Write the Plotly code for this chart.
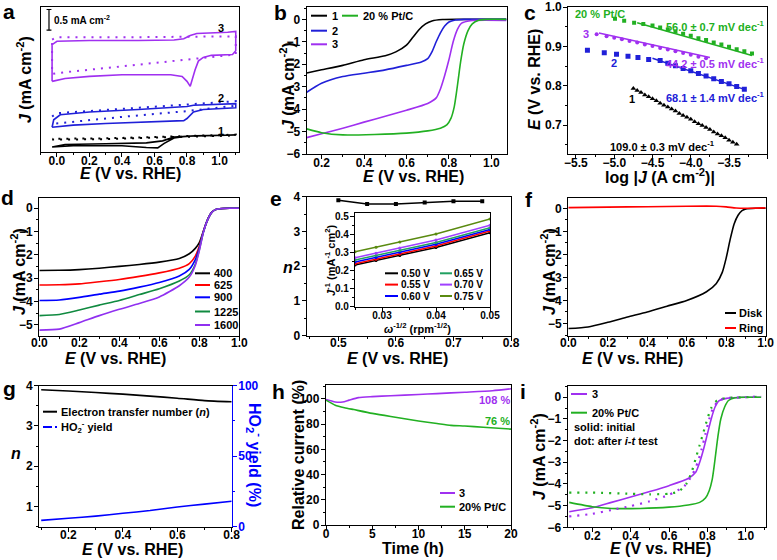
import plotly.graph_objects as go

W, H = 777, 560
FONT = 'Arial, "Liberation Sans", sans-serif'

BLACK = '#000000'
BLUE = '#2020d8'
PURPLE = '#a030f0'
GREEN = '#22b022'
RED = '#ff0000'

# ---------------- data ----------------
# (a) CV curves, offset for clarity (mA cm-2, arbitrary offset)
a3_E = [-0.03, -0.03, 0.0, 0.2, 0.5, 0.72, 0.78, 0.82, 0.86, 0.95, 1.05, 1.10, 1.10, 1.08, 0.95, 0.90, 0.87, 0.85, 0.83, 0.82, 0.80, 0.77, 0.70, 0.40, 0.20, 0.05, -0.03]
a3_J = [1.71, 2.60, 2.68, 2.70, 2.70, 2.71, 2.74, 2.82, 2.87, 2.88, 2.90, 2.92, 2.45, 2.36, 2.34, 2.29, 2.20, 1.99, 1.71, 1.59, 1.71, 1.83, 1.87, 1.87, 1.83, 1.78, 1.71]
a3d_E = [-0.03, 0.0, 0.5, 1.10, 1.10, 0.8, 0.4, 0.0, -0.03, -0.03]
a3d_J = [2.72, 2.78, 2.78, 2.80, 2.36, 2.24, 2.07, 1.91, 1.89, 2.72]
a2_E = [-0.03, -0.02, 0.02, 0.2, 0.5, 0.75, 0.8, 0.84, 0.9, 1.1, 1.1, 0.9, 0.84, 0.80, 0.78, 0.6, 0.3, 0.1, 0.0, -0.03]
a2_J = [0.60, 0.78, 0.90, 0.97, 1.03, 1.08, 1.10, 1.13, 1.14, 1.17, 1.07, 1.03, 0.97, 0.81, 0.76, 0.74, 0.69, 0.65, 0.62, 0.60]
a2d_E = [-0.03, 0.0, 0.5, 1.1, 1.1, 0.8, 0.4, 0.0, -0.03]
a2d_J = [0.86, 0.94, 1.07, 1.23, 1.12, 0.99, 0.85, 0.70, 0.68]
a1_E = [-0.03, 0.05, 0.3, 0.55, 0.65, 0.72, 0.85, 1.1, 1.1, 0.8, 0.72, 0.66, 0.62, 0.55, 0.4, 0.1, -0.03]
a1_J = [0.12, 0.18, 0.20, 0.22, 0.27, 0.36, 0.39, 0.41, 0.40, 0.38, 0.34, 0.21, 0.10, 0.11, 0.15, 0.15, 0.12]
a1d_E = [-0.03, 0.3, 0.7, 1.1, 1.1, 0.7, 0.3, -0.03]
a1d_J = [0.30, 0.31, 0.36, 0.40, 0.42, 0.38, 0.33, 0.32]

# (b) LSV at 1600 rpm
b1_E = [0.13, 0.2, 0.3, 0.4, 0.5, 0.55, 0.6, 0.63, 0.66, 0.69, 0.72, 0.77, 0.85, 1.07]
b1_J = [-2.39, -2.25, -2.05, -1.8, -1.62, -1.45, -1.15, -0.8, -0.45, -0.2, -0.07, -0.01, 0, 0]
b2_E = [0.13, 0.2, 0.3, 0.4, 0.5, 0.6, 0.67, 0.7, 0.72, 0.74, 0.76, 0.78, 0.8, 0.83, 0.87, 1.07]
b2_J = [-3.25, -2.85, -2.55, -2.4, -2.25, -2.05, -1.9, -1.75, -1.45, -1.0, -0.6, -0.3, -0.12, -0.03, 0, 0]
b3_E = [0.13, 0.2, 0.3, 0.4, 0.5, 0.6, 0.7, 0.74, 0.76, 0.78, 0.8, 0.82, 0.84, 0.86, 0.9, 1.07]
b3_J = [-5.27, -5.1, -4.85, -4.58, -4.32, -4.05, -3.75, -3.5, -3.1, -2.5, -1.8, -1.0, -0.45, -0.17, -0.06, -0.05]
bpt_E = [0.13, 0.2, 0.3, 0.45, 0.6, 0.7, 0.76, 0.79, 0.81, 0.825, 0.835, 0.845, 0.855, 0.87, 0.89, 0.91, 0.94, 0.98, 1.07]
bpt_J = [-4.88, -5.05, -5.15, -5.13, -5.07, -4.97, -4.85, -4.7, -4.4, -3.9, -3.3, -2.6, -1.9, -1.1, -0.5, -0.2, -0.04, 0, 0]

# (c) Tafel plots
cpt_x = [-4.99, -4.87, -4.74, -4.62, -4.5, -4.4, -4.3, -4.2, -4.1, -4.0, -3.9, -3.8, -3.7, -3.6, -3.5, -3.4, -3.3, -3.2]
cpt_y = [0.970, 0.965, 0.960, 0.957, 0.953, 0.948, 0.943, 0.938, 0.932, 0.927, 0.921, 0.916, 0.910, 0.905, 0.899, 0.893, 0.888, 0.882]
cpt_fit_x = [-4.7, -3.2]
cpt_fit_y = [0.960, 0.877]
c3_x = [-5.23, -5.1, -5.0, -4.9, -4.8, -4.7, -4.6, -4.5, -4.4, -4.3, -4.2, -4.1, -4.0, -3.9, -3.8]
c3_y = [0.931, 0.926, 0.922, 0.918, 0.914, 0.910, 0.905, 0.901, 0.896, 0.892, 0.888, 0.883, 0.879, 0.874, 0.870]
c3_fit_x = [-5.2, -3.75]
c3_fit_y = [0.934, 0.872]
c2_x = [-5.35, -5.13, -4.97, -4.82, -4.69, -4.55, -4.4, -4.3, -4.2, -4.1, -4.0, -3.9, -3.8, -3.7, -3.6, -3.5, -3.4, -3.3]
c2_y = [0.890, 0.884, 0.880, 0.875, 0.872, 0.867, 0.864, 0.857, 0.851, 0.844, 0.838, 0.831, 0.825, 0.818, 0.811, 0.805, 0.798, 0.791]
c2_fit_x = [-4.5, -3.3]
c2_fit_y = [0.870, 0.791]
c1_x = [-4.75, -4.70, -4.65, -4.60, -4.55, -4.50, -4.45, -4.40, -4.35, -4.30, -4.25, -4.20, -4.15, -4.10,
        -4.05, -4.00, -3.95, -3.90, -3.85, -3.80, -3.75, -3.70, -3.65, -3.60, -3.55, -3.50, -3.45, -3.40]
c1_y = [0.793, 0.788, 0.783, 0.777, 0.772, 0.767, 0.762, 0.756, 0.751, 0.746, 0.741, 0.736, 0.730, 0.725,
        0.720, 0.715, 0.709, 0.704, 0.699, 0.694, 0.689, 0.683, 0.678, 0.673, 0.668, 0.662, 0.657, 0.652]

# (d) LSV at different rotation rates
d_E = [0.0, 0.1, 0.2, 0.3, 0.4, 0.5, 0.6, 0.7, 0.75, 0.78, 0.80, 0.82, 0.84, 0.86, 0.88, 0.90, 0.95, 1.0]
d_rpm = ['400', '625', '900', '1225', '1600']
d_J = {
    '400': [-2.67, -2.66, -2.63, -2.57, -2.49, -2.41, -2.31, -2.15, -1.95, -1.72, -1.47, -1.0, -0.52, -0.2, -0.06, -0.02, 0, 0],
    '625': [-3.29, -3.28, -3.24, -3.15, -3.05, -2.92, -2.77, -2.57, -2.37, -2.05, -1.62, -1.0, -0.52, -0.2, -0.06, -0.02, 0, 0],
    '900': [-3.95, -3.93, -3.82, -3.68, -3.55, -3.38, -3.18, -2.9, -2.62, -2.2, -1.7, -1.02, -0.52, -0.2, -0.06, -0.02, 0, 0],
    '1225': [-4.6, -4.55, -4.36, -4.15, -3.95, -3.7, -3.45, -3.12, -2.85, -2.4, -1.78, -1.04, -0.53, -0.2, -0.06, -0.02, 0, 0],
    '1600': [-5.22, -5.18, -4.9, -4.6, -4.33, -4.08, -3.8, -3.32, -2.95, -2.45, -1.82, -1.05, -0.53, -0.2, -0.06, -0.02, 0, 0],
}
d_colors = ['#000000', '#ff0000', '#0000ff', '#108a40', '#9030f0']

# (e) electron transfer number and K-L inset
e_E = [0.50, 0.55, 0.60, 0.65, 0.70, 0.75]
e_n = [3.90, 3.79, 3.79, 3.83, 3.87, 3.87]
kl_w = [0.025, 0.0289, 0.0333, 0.04, 0.05]
kl_labels = ['0.50 V', '0.55 V', '0.60 V', '0.65 V', '0.70 V', '0.75 V']
kl_J = [
    [0.232, 0.257, 0.285, 0.330, 0.412],
    [0.239, 0.264, 0.293, 0.338, 0.421],
    [0.249, 0.274, 0.303, 0.348, 0.430],
    [0.260, 0.285, 0.313, 0.358, 0.440],
    [0.273, 0.298, 0.327, 0.371, 0.453],
    [0.306, 0.331, 0.360, 0.405, 0.488],
]
kl_colors = ['#000000', '#ff0000', '#0000ff', '#20a060', '#a040ff', '#5a8a10']

# (f) RRDE
f_E = [0.0, 0.1, 0.2, 0.3, 0.4, 0.5, 0.6, 0.7, 0.75, 0.78, 0.8, 0.82, 0.84, 0.86, 0.88, 0.9, 0.95, 1.0]
f_disk = [-5.22, -5.15, -4.95, -4.72, -4.5, -4.25, -4.0, -3.62, -3.26, -2.78, -2.15, -1.35, -0.68, -0.3, -0.1, -0.03, 0, 0]
f_ringE = [0.0, 0.2, 0.4, 0.6, 0.75, 0.8, 0.85, 0.9, 1.0]
f_ring = [0.03, 0.05, 0.07, 0.09, 0.09, 0.06, 0.01, 0.0, 0.02]

# (g) n and HO2- yield
g_E = [0.1, 0.2, 0.3, 0.4, 0.5, 0.6, 0.7, 0.8]
g_n = [3.9, 3.87, 3.83, 3.79, 3.74, 3.69, 3.63, 3.6]
g_yield = [4.5, 6, 7.5, 9.5, 11.5, 14, 16, 18]

# (h) chronoamperometry
h_t3 = [0, 0.5, 1, 1.8, 2.5, 3.5, 5, 7, 10, 12, 15, 18, 20]
h_3 = [99.5, 98.5, 97.5, 97.5, 99, 101, 101.8, 102.5, 103.5, 104.2, 105.3, 106.5, 108]
h_tpt = [0, 1, 2, 3, 5, 7, 10, 12, 13.5, 15, 17, 20]
h_pt = [99, 95, 93, 91.5, 88.5, 86, 82.5, 80.5, 79, 78.5, 77.5, 76]

# (i) before / after stability test
i3_E = [0.08, 0.2, 0.3, 0.4, 0.5, 0.6, 0.7, 0.74, 0.76, 0.78, 0.8, 0.82, 0.84, 0.86, 0.9, 1.0, 1.08]
i3_J = [-5.28, -5.1, -4.85, -4.6, -4.35, -4.08, -3.75, -3.45, -3.0, -2.4, -1.7, -1.0, -0.45, -0.17, -0.05, 0, 0]
ipt_E = [0.08, 0.2, 0.3, 0.45, 0.6, 0.7, 0.76, 0.79, 0.81, 0.825, 0.835, 0.845, 0.855, 0.87, 0.89, 0.91, 0.94, 0.98, 1.08]
ipt_J = [-4.85, -5.05, -5.13, -5.13, -5.07, -4.97, -4.85, -4.65, -4.3, -3.8, -3.2, -2.5, -1.8, -1.0, -0.45, -0.15, -0.03, 0, 0]
i3d_E = [0.08, 0.2, 0.3, 0.4, 0.5, 0.6, 0.68, 0.72, 0.75, 0.77, 0.79, 0.81, 0.83, 0.86, 0.9, 1.0, 1.08]
i3d_J = [-5.5, -5.38, -5.2, -5.02, -4.8, -4.5, -4.1, -3.6, -3.0, -2.4, -1.7, -1.0, -0.5, -0.15, -0.04, 0, 0.05]
iptd_E = [0.08, 0.2, 0.4, 0.5, 0.6, 0.65, 0.69, 0.72, 0.74, 0.76, 0.78, 0.8, 0.82, 0.85, 0.9, 1.0, 1.08]
iptd_J = [-4.4, -4.4, -4.45, -4.48, -4.45, -4.35, -4.0, -3.4, -2.8, -2.2, -1.6, -1.0, -0.5, -0.15, -0.03, 0, 0.02]


# ---------------- helpers ----------------
def px(x):
    return x / W


def py(y):
    return 1 - y / H


def xdom(x0, x1):
    return [x0 / W, x1 / W]


def ydom(y0, y1):
    return [1 - y1 / H, 1 - y0 / H]


def axis(domain, rng, anchor, dtick=None, minor=None, fmt=None, labels=True,
         ticks='outside', size=12, color='black', mirror=True, tick0=0, standoff=-7):
    a = dict(domain=domain, range=rng, anchor=anchor, showline=True, linecolor=color,
             linewidth=1.3, mirror=mirror, ticks=ticks, ticklen=4, tickwidth=1.2,
             tickcolor=color, showgrid=False, zeroline=False, showticklabels=labels,
             automargin=False, ticklabelstandoff=standoff,
             tickfont=dict(family=FONT, size=size, color=color, weight='bold'))
    if dtick is not None:
        a.update(dtick=dtick, tick0=tick0)
    if fmt:
        a['tickformat'] = fmt
    if minor:
        a['minor'] = dict(ticks='outside', ticklen=2, tickwidth=1, tickcolor=color,
                          dtick=minor, tick0=tick0, showgrid=False)
    return a


fig = go.Figure()


def add(x, y, xa, ya, color, width=1.6, dash=None, mode='lines', shape='linear', marker=None):
    line = dict(color=color, width=width, dash=dash, shape=shape)
    if shape == 'spline':
        line['smoothing'] = 0.6
    fig.add_trace(go.Scatter(x=x, y=y, xaxis=xa, yaxis=ya, mode=mode, line=line,
                             marker=marker, showlegend=False, hoverinfo='skip'))


ann = []
shapes = []


def text(s, x, y, size=11, color='black', xanchor='left', yanchor='middle', angle=0):
    ann.append(dict(text=s, x=px(x), y=py(y), xref='paper', yref='paper', showarrow=False,
                    xanchor=xanchor, yanchor=yanchor, textangle=angle,
                    font=dict(family=FONT, size=size, color=color, weight='bold')))


def key(x0, x1, y, color, dash='solid', width=2):
    shapes.append(dict(type='line', xref='paper', yref='paper', x0=px(x0), x1=px(x1),
                       y0=py(y), y1=py(y), line=dict(color=color, width=width, dash=dash)))


DOT = '2px,6px'

# ---------------- panel a ----------------
add(a3_E, a3_J, 'x', 'y', PURPLE)
add(a3d_E, a3d_J, 'x', 'y', PURPLE, width=2, dash=DOT)
add(a2_E, a2_J, 'x', 'y', BLUE)
add(a2d_E, a2d_J, 'x', 'y', BLUE, width=2, dash=DOT)
add(a1_E, a1_J, 'x', 'y', BLACK)
add(a1d_E, a1d_J, 'x', 'y', BLACK, width=2, dash=DOT)
for y0 in (2.95, 3.45):
    shapes.append(dict(type='line', xref='x', yref='y', x0=-0.064, x1=-0.034, y0=y0, y1=y0,
                       line=dict(color='black', width=1.2)))
shapes.append(dict(type='line', xref='x', yref='y', x0=-0.049, x1=-0.049, y0=2.95, y1=3.45,
                   line=dict(color='black', width=1.2)))
text('0.5 mA cm<sup>-2</sup>', 52, 20, size=10)
text('3', 216, 28)
text('2', 216, 98)
text('1', 216, 131)

# ---------------- panel b ----------------
add(b1_E, b1_J, 'x2', 'y2', BLACK, shape='spline')
add(b2_E, b2_J, 'x2', 'y2', BLUE, shape='spline')
add(b3_E, b3_J, 'x2', 'y2', PURPLE, shape='spline')
add(bpt_E, bpt_J, 'x2', 'y2', GREEN, shape='spline')
key(311, 327, 15.7, BLACK); text('1', 330, 15.7)
key(342, 358, 15.7, GREEN); text('20 % Pt/C', 361, 15.7)
key(311, 327, 30.7, BLUE); text('2', 330, 30.7)
key(311, 327, 44.3, PURPLE); text('3', 330, 44.3)

# ---------------- panel c ----------------
add(cpt_fit_x, cpt_fit_y, 'x3', 'y3', GREEN, width=1.5)
add(cpt_x, cpt_y, 'x3', 'y3', GREEN, mode='markers', marker=dict(symbol='square', size=4, color=GREEN))
add(c3_fit_x, c3_fit_y, 'x3', 'y3', PURPLE, width=1.5)
add(c3_x, c3_y, 'x3', 'y3', PURPLE, mode='markers', marker=dict(symbol='circle', size=4, color=PURPLE))
add(c2_fit_x, c2_fit_y, 'x3', 'y3', BLUE, width=1.5)
add(c2_x, c2_y, 'x3', 'y3', BLUE, mode='markers', marker=dict(symbol='square', size=5, color=BLUE))
add(c1_x, c1_y, 'x3', 'y3', BLACK, mode='markers', marker=dict(symbol='triangle-up', size=5, color=BLACK))
text('20 % Pt/C', 573, 14, color=GREEN)
text('56.0 ± 0.7 mV dec<sup>-1</sup>', 664, 26, color=GREEN)
text('3', 581, 34, color=PURPLE)
text('44.2 ± 0.5 mV dec<sup>-1</sup>', 664, 63, color=PURPLE)
text('2', 609, 63, color=BLUE)
text('68.1 ± 1.4 mV dec<sup>-1</sup>', 664, 97, color=BLUE)
text('1', 627, 99)
text('109.0 ± 0.3 mV dec<sup>-1</sup>', 608, 146)

# ---------------- panel d ----------------
for rpm, col in zip(d_rpm, d_colors):
    add(d_E, d_J[rpm], 'x4', 'y4', col, shape='spline')
for rpm, col, yy in zip(d_rpm, d_colors, [273.3, 285, 297.3, 311.5, 325]):
    key(195, 210, yy, col)
    text(rpm, 212, yy)

# ---------------- panel e ----------------
add(e_E, e_n, 'x5', 'y5', BLACK, width=1.5, mode='lines+markers',
    marker=dict(symbol='square', size=4, color=BLACK))
for js, col in zip(kl_J, kl_colors):
    add(kl_w, js, 'x6', 'y6', col, width=1.5, mode='lines+markers', marker=dict(size=3, color=col))
for i, (lab, col) in enumerate(zip(kl_labels, kl_colors)):
    yy = [273.3, 284.6, 296][i % 3]
    if i < 3:
        key(385, 398, yy, col); text(lab, 399, yy, size=10)
    else:
        key(440, 452, yy, col); text(lab, 452, yy, size=10)

# ---------------- panel f ----------------
add(f_E, f_disk, 'x7', 'y7', BLACK, shape='spline')
add(f_ringE, f_ring, 'x7', 'y7', RED, shape='spline')
key(725, 736, 313, BLACK); text('Disk', 737, 313)
key(725, 736, 328, RED); text('Ring', 737, 328)

# ---------------- panel g ----------------
add(g_E, g_n, 'x8', 'y8', BLACK, shape='spline')
add(g_E, g_yield, 'x8', 'y11', '#0000ff', shape='spline')
key(43, 57, 411.7, BLACK); text('Electron transfer number (<i>n</i>)', 59, 411.7)
key(43, 57, 427, '#0000ff', dash='dashdot'); text('HO<sub>2</sub><sup>-</sup> yield', 59, 427)

# ---------------- panel h ----------------
add(h_t3, h_3, 'x9', 'y9', PURPLE, shape='spline')
add(h_tpt, h_pt, 'x9', 'y9', GREEN, shape='spline')
text('108 %', 477, 400, color=PURPLE)
text('76 %', 483, 421, color=GREEN)
key(440, 455, 493, PURPLE); text('3', 457, 493)
key(440, 455, 506.7, GREEN); text('20% Pt/C', 457, 506.7)

# ---------------- panel i ----------------
add(i3_E, i3_J, 'x10', 'y10', PURPLE, shape='spline')
add(ipt_E, ipt_J, 'x10', 'y10', GREEN, shape='spline')
add(i3d_E, i3d_J, 'x10', 'y10', PURPLE, width=2.2, dash=DOT, shape='spline')
add(iptd_E, iptd_J, 'x10', 'y10', GREEN, width=2.2, dash=DOT, shape='spline')
key(571, 587, 394, PURPLE); text('3', 590, 394)
key(571, 587, 412.7, GREEN); text('20% Pt/C', 590, 412.7)
text('solid: initial', 572, 427.3)
text('dot: after <i>i</i>-<i>t</i> test', 572, 441)

# ---------------- axis titles & panel letters ----------------
EX = '<i>E</i> (V vs. RHE)'
JY = '<i>J</i> (mA cm<sup>-2</sup>)'
text(EX, 130, 173, size=16, xanchor='center')
text(EX, 413, 176, size=16, xanchor='center')
text('log |<i>J</i> (A cm<sup>-2</sup>)|', 660, 176, size=16, xanchor='center')
text(EX, 115, 358, size=16, xanchor='center')
text(EX, 397, 358, size=16, xanchor='center')
text(EX, 632, 358, size=16, xanchor='center')
text(EX, 132, 549, size=16, xanchor='center')
text('Time (h)', 413, 548, size=16, xanchor='center')
text(EX, 660, 548, size=16, xanchor='center')
text('<i>ω</i><sup>-1/2</sup> (rpm<sup>-1/2</sup>)', 418, 328, size=11, xanchor='center')
text('<i>J</i><sup>-1</sup> (mA<sup>-1</sup> cm<sup>2</sup>)', 330, 260, size=11, xanchor='center', angle=-90)

text(JY, 24, 80, size=16, xanchor='center', angle=-90)
text(JY, 287, 86, size=16, xanchor='center', angle=-90)
text(EX, 535, 80, size=16, xanchor='center', angle=-90)
text(JY, 18, 272, size=16, xanchor='center', angle=-90)
text('<i>n</i>', 288, 267, size=16, xanchor='center')
text(JY, 548, 272, size=16, xanchor='center', angle=-90)
text('<i>n</i>', 16, 453, size=16, xanchor='center')
text('HO<sub>2</sub><sup>-</sup> yield (%)', 255, 455, size=16, xanchor='center', angle=90, color='#0000ff')
text('Relative current (%)', 298, 455, size=16, xanchor='center', angle=-90)
text(JY, 538, 457, size=16, xanchor='center', angle=-90)

for letter, x, y in [('a', 9, 11), ('b', 280, 12), ('c', 530, 12), ('d', 7, 197), ('e', 276, 198),
                     ('f', 529, 199), ('g', 9, 388), ('h', 278, 391), ('i', 523, 391)]:
    text(letter, x, y, size=21, xanchor='center')

# ---------------- layout ----------------
layout = dict(
    width=W, height=H, margin=dict(l=0, r=0, t=0, b=0, pad=0, autoexpand=False),
    paper_bgcolor='white', plot_bgcolor='white', showlegend=False,
    font=dict(family=FONT, color='black'),
    xaxis=axis(xdom(40.7, 239), [-0.1, 1.12], 'y', dtick=0.2, minor=0.1, fmt='.1f'),
    yaxis=axis(ydom(7, 152), [0, 3.51], 'x', labels=False, ticks=''),
    xaxis2=axis(xdom(306.7, 507.3), [0.13, 1.075], 'y2', dtick=0.2, minor=0.1, fmt='.1f'),
    yaxis2=axis(ydom(7, 154), [-6, 0.55], 'x2', dtick=1, minor=0.5, fmt='d', standoff=-1),
    xaxis3=axis(xdom(568.3, 767.3), [-5.6, -3.0], 'y3', dtick=0.5, minor=0.25, fmt='.1f'),
    yaxis3=axis(ydom(7, 154), [0.627, 1.0], 'x3', dtick=0.1, minor=0.05, fmt='.1f', standoff=-1),
    xaxis4=axis(xdom(39.3, 239.3), [0, 1], 'y4', dtick=0.2, minor=0.1, fmt='.1f', standoff=-8),
    yaxis4=axis(ydom(197.7, 335.7), [-5.46, 0.45], 'x4', dtick=1, minor=0.5, fmt='d', standoff=-1),
    xaxis5=axis(xdom(306.7, 511), [0.445, 0.8], 'y5', dtick=0.1, minor=0.05, fmt='.1f', standoff=-8),
    yaxis5=axis(ydom(196.7, 335.7), [0, 4], 'x5', dtick=1, minor=0.5, fmt='d', standoff=-1),
    xaxis6=axis(xdom(355, 490), [0.025, 0.05], 'y6', dtick=0.01, minor=0.005, fmt='.2f', size=10, standoff=-5),
    yaxis6=axis(ydom(213.3, 306.7), [0, 0.52], 'x6', dtick=0.1, minor=0.05, fmt='.1f', size=10, standoff=-1),
    xaxis7=axis(xdom(568.3, 765.7), [0, 1], 'y7', dtick=0.2, minor=0.1, fmt='.1f', standoff=-8),
    yaxis7=axis(ydom(197.7, 335.7), [-5.53, 0.46], 'x7', dtick=1, minor=0.5, fmt='d', standoff=-1),
    xaxis8=axis(xdom(39.3, 231.7), [0.093, 0.8], 'y8', dtick=0.2, minor=0.1, fmt='.1f'),
    yaxis8=axis(ydom(385.7, 526.7), [0.5, 4], 'x8', dtick=1, minor=0.5, fmt='d', mirror=False, standoff=-1),
    yaxis11=axis(ydom(385.7, 526.7), [0, 100], 'x8', dtick=50, minor=25, fmt='d',
                 color='#0000ff', mirror=False, standoff=-1),
    xaxis9=axis(xdom(326, 511), [0, 20], 'y9', dtick=5, minor=2.5, fmt='d'),
    yaxis9=axis(ydom(385, 525), [0, 111], 'x9', dtick=20, minor=10, fmt='d', standoff=-1),
    xaxis10=axis(xdom(567.7, 765.7), [0.072, 1.104], 'y10', dtick=0.2, minor=0.1, fmt='.1f'),
    yaxis10=axis(ydom(386, 527.3), [-6, 0.52], 'x10', dtick=1, minor=0.5, fmt='d', standoff=-1),
    annotations=ann,
    shapes=shapes,
)
layout['yaxis11'].update(overlaying='y8', side='right')
fig.update_layout(**layout)

# the page's default 8px body margin would shift the figure, so remove it
fig.write_html("out.html", config={'displayModeBar': False},
               post_script="document.body.style.margin = '0';")
